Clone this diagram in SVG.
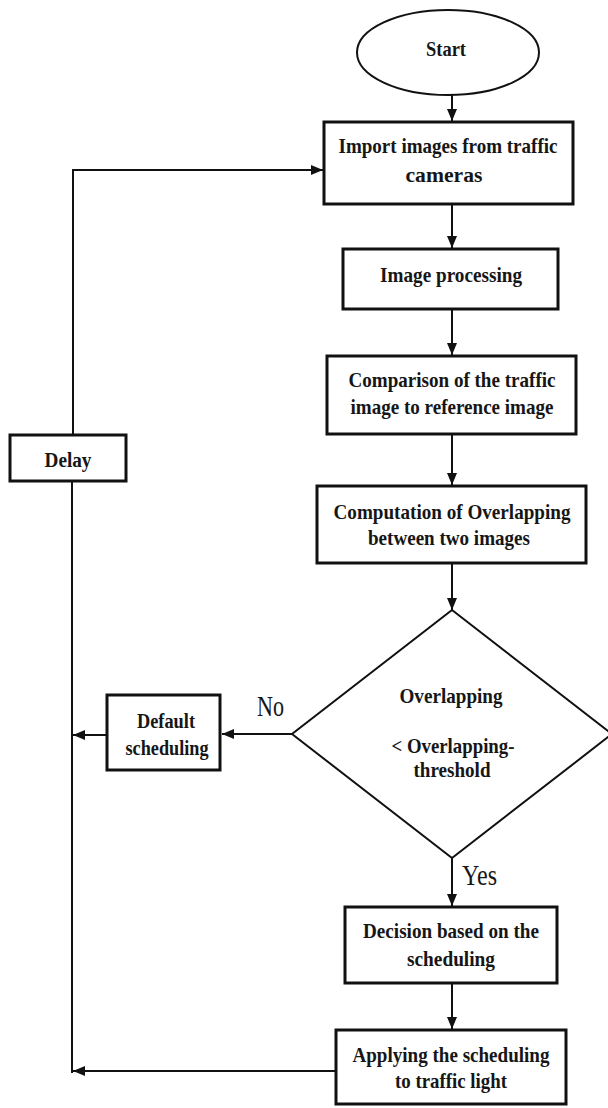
<svg xmlns="http://www.w3.org/2000/svg" width="608" height="1108" viewBox="0 0 608 1108">
  <style>
    .box { fill: #fff; stroke: #111; stroke-width: 3; }
    .thin { fill: #fff; stroke: #111; stroke-width: 2; }
    .line { fill: none; stroke: #111; stroke-width: 2; }
    .lbl { font-family: "Liberation Serif", "Times New Roman", serif; font-weight: bold; fill: #161616; text-anchor: middle; }
    .edge { font-family: "Liberation Serif", "Times New Roman", serif; font-weight: normal; fill: #161616; font-size: 30px; }
  </style>
  <defs>
    <marker id="arrow" viewBox="0 0 12 10" refX="12" refY="5" markerWidth="12" markerHeight="10" markerUnits="userSpaceOnUse" orient="auto">
      <path d="M0,0 L12,5 L0,10 Z" fill="#111"/>
    </marker>
  </defs>
  <rect width="608" height="1108" fill="#fff"/>

  <!-- connectors -->
  <g id="connectors">
    <line class="line" x1="452" y1="95" x2="452" y2="121" marker-end="url(#arrow)"/>
    <line class="line" x1="452" y1="205" x2="452" y2="248" marker-end="url(#arrow)"/>
    <line class="line" x1="452" y1="310" x2="452" y2="355" marker-end="url(#arrow)"/>
    <line class="line" x1="452" y1="435" x2="452" y2="485" marker-end="url(#arrow)"/>
    <line class="line" x1="452" y1="564" x2="452" y2="610" marker-end="url(#arrow)"/>
    <line class="line" x1="452" y1="858" x2="452" y2="906" marker-end="url(#arrow)"/>
    <line class="line" x1="452" y1="984" x2="452" y2="1029" marker-end="url(#arrow)"/>
    <line class="line" x1="292" y1="734" x2="222" y2="734" marker-end="url(#arrow)"/>
    <line class="line" x1="106" y1="735" x2="73" y2="735" marker-end="url(#arrow)"/>
    <line class="line" x1="336" y1="1071" x2="73" y2="1071" marker-end="url(#arrow)"/>
    <line class="line" x1="72" y1="482" x2="72" y2="1073"/>
    <polyline class="line" points="73,435 73,170 323,170" marker-end="url(#arrow)"/>
    <text class="edge" x="257" y="716" textLength="27" lengthAdjust="spacingAndGlyphs">No</text>
    <text class="edge" x="462" y="885" textLength="35" lengthAdjust="spacingAndGlyphs">Yes</text>
  </g>

  <g id="start">
    <ellipse class="thin" cx="448" cy="52.5" rx="91" ry="42.5"/>
    <text class="lbl" x="446" y="56" font-size="22" textLength="40" lengthAdjust="spacingAndGlyphs">Start</text>
  </g>

  <g id="import">
    <rect class="box" x="324" y="122" width="249" height="82"/>
    <text class="lbl" x="448" y="153" font-size="22" textLength="219" lengthAdjust="spacingAndGlyphs">Import images from traffic</text>
    <text class="lbl" x="444" y="182" font-size="22" textLength="77" lengthAdjust="spacingAndGlyphs">cameras</text>
  </g>

  <g id="processing">
    <rect class="box" x="343" y="249" width="215" height="60"/>
    <text class="lbl" x="451" y="282" font-size="22" textLength="142" lengthAdjust="spacingAndGlyphs">Image processing</text>
  </g>

  <g id="comparison">
    <rect class="box" x="327" y="356" width="249" height="78"/>
    <text class="lbl" x="452" y="387" font-size="22" textLength="207" lengthAdjust="spacingAndGlyphs">Comparison of the traffic</text>
    <text class="lbl" x="452" y="414" font-size="22" textLength="203" lengthAdjust="spacingAndGlyphs">image to reference image</text>
  </g>

  <g id="computation">
    <rect class="box" x="317" y="486" width="269" height="77"/>
    <text class="lbl" x="452" y="519" font-size="22" textLength="237" lengthAdjust="spacingAndGlyphs">Computation of Overlapping</text>
    <text class="lbl" x="449" y="545" font-size="22" textLength="162" lengthAdjust="spacingAndGlyphs">between two images</text>
  </g>

  <g id="decision">
    <polygon class="thin" points="452,610 612,734 452,858 292,734"/>
    <text class="lbl" x="451" y="703" font-size="21" textLength="103" lengthAdjust="spacingAndGlyphs">Overlapping</text>
    <text class="lbl" x="453" y="753" font-size="21" textLength="123" lengthAdjust="spacingAndGlyphs">&lt; Overlapping-</text>
    <text class="lbl" x="452" y="777" font-size="21" textLength="77" lengthAdjust="spacingAndGlyphs">threshold</text>
  </g>

  <g id="default">
    <rect class="box" x="107" y="695" width="113" height="75"/>
    <text class="lbl" x="166" y="728" font-size="20" textLength="58" lengthAdjust="spacingAndGlyphs">Default</text>
    <text class="lbl" x="167" y="755" font-size="20" textLength="83" lengthAdjust="spacingAndGlyphs">scheduling</text>
  </g>

  <g id="delay">
    <rect class="box" x="10" y="435" width="116" height="46"/>
    <text class="lbl" x="68" y="467" font-size="20" textLength="47" lengthAdjust="spacingAndGlyphs">Delay</text>
  </g>

  <g id="decide">
    <rect class="box" x="345" y="907" width="212" height="76"/>
    <text class="lbl" x="451" y="938" font-size="21" textLength="176" lengthAdjust="spacingAndGlyphs">Decision based on the</text>
    <text class="lbl" x="451" y="966" font-size="21" textLength="88" lengthAdjust="spacingAndGlyphs">scheduling</text>
  </g>

  <g id="apply">
    <rect class="box" x="336" y="1030" width="230" height="74"/>
    <text class="lbl" x="451" y="1062" font-size="21" textLength="197" lengthAdjust="spacingAndGlyphs">Applying the scheduling</text>
    <text class="lbl" x="451" y="1088" font-size="21" textLength="112" lengthAdjust="spacingAndGlyphs">to traffic light</text>
  </g>
</svg>
